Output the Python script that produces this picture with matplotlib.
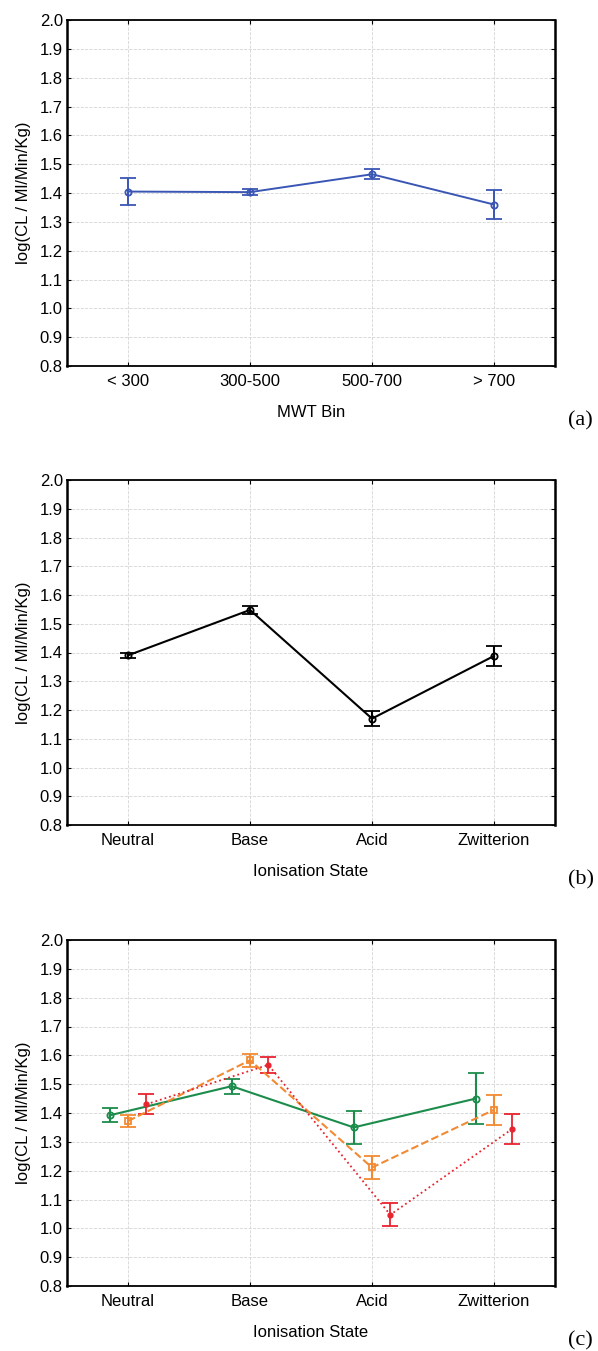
import matplotlib
matplotlib.use('Agg')
from matplotlib import pyplot as plt
import numpy as np

plt.rcParams['font.family'] = ['Liberation Sans', 'DejaVu Sans']

# panel (a)
mwt_bins = ['< 300', '300-500', '500-700', '> 700']
mwt_mean = [1.405, 1.403, 1.465, 1.360]
mwt_err = [0.047, 0.010, 0.018, 0.050]

# panel (b)
ion_states = ['Neutral', 'Base', 'Acid', 'Zwitterion']
ion_mean = [1.390, 1.548, 1.170, 1.388]
ion_err = [0.010, 0.014, 0.026, 0.034]

# panel (c) - three groups per ionisation state
green_mean = [1.392, 1.493, 1.350, 1.450]
green_err = [0.024, 0.026, 0.057, 0.088]
orange_mean = [1.372, 1.583, 1.211, 1.411]
orange_err = [0.022, 0.023, 0.040, 0.053]
red_mean = [1.430, 1.567, 1.047, 1.345]
red_err = [0.035, 0.028, 0.040, 0.051]

ylab = 'log(CL / Ml/Min/Kg)'

fig = plt.figure(figsize=(5.98, 13.51), dpi=100)
W, H = 598, 1351
boxes = [(20, 366), (480, 825), (940, 1286)]
axes = []
for top, bot in boxes:
    ax = fig.add_axes([67 / W, 1 - bot / H, 488 / W, (bot - top) / H])
    axes.append(ax)


def style(ax, cats, xlabel, tag):
    x = np.arange(len(cats))
    ax.set_xlim(-0.5, 3.5)
    ax.set_ylim(0.8, 2.0)
    ax.set_xticks(x)
    ax.set_xticklabels(cats)
    ax.set_yticks(np.arange(0.8, 2.01, 0.1))
    ax.set_yticklabels(['%.1f' % v for v in np.arange(0.8, 2.01, 0.1)])
    ax.tick_params(direction='in', top=True, right=True, length=3,
                   labelsize=12)
    ax.tick_params(axis='y', pad=3)
    ax.tick_params(axis='x', pad=6)
    ax.grid(True, color='#d4d4d4', ls='--', lw=0.6)
    ax.set_axisbelow(True)
    for s in ax.spines.values():
        s.set_linewidth(1.3)
    ax.spines['left'].set_linewidth(1.8)
    ax.spines['right'].set_linewidth(1.8)
    ax.set_xlabel(xlabel, fontsize=12, labelpad=11)
    ax.set_ylabel(ylab, fontsize=12, labelpad=6)
    ax.text(1.053, -0.158, tag, transform=ax.transAxes, fontsize=16,
            family='Liberation Serif', ha='center', va='center')


x = np.arange(4)
ax = axes[0]
ax.errorbar(x, mwt_mean, yerr=mwt_err, color='#3a56b4', marker='o', ms=4.5,
            mfc='none', mew=1.3, lw=1.4, capsize=6, capthick=1.3)
style(ax, mwt_bins, 'MWT Bin', '(a)')

ax = axes[1]
ax.errorbar(x, ion_mean, yerr=ion_err, color='black', marker='o', ms=4.5,
            mfc='none', mew=1.3, lw=1.5, capsize=6, capthick=1.3)
style(ax, ion_states, 'Ionisation State', '(b)')

ax = axes[2]
ax.errorbar(x - 0.15, green_mean, yerr=green_err, color='#1c8c4c', marker='o',
            ms=4.5, mfc='none', mew=1.3, lw=1.5, ls='-', capsize=6, capthick=1.3)
ax.errorbar(x, orange_mean, yerr=orange_err, color='#f28a32', marker='s',
            ms=4.5, mfc='none', mew=1.3, lw=1.5, ls='--', capsize=6, capthick=1.3)
ax.errorbar(x + 0.15, red_mean, yerr=red_err, color='#e8242e', marker='o',
            ms=3.5, lw=1.3, ls=':', capsize=6, capthick=1.3)
style(ax, ion_states, 'Ionisation State', '(c)')

fig.savefig('out.png', dpi=100)
